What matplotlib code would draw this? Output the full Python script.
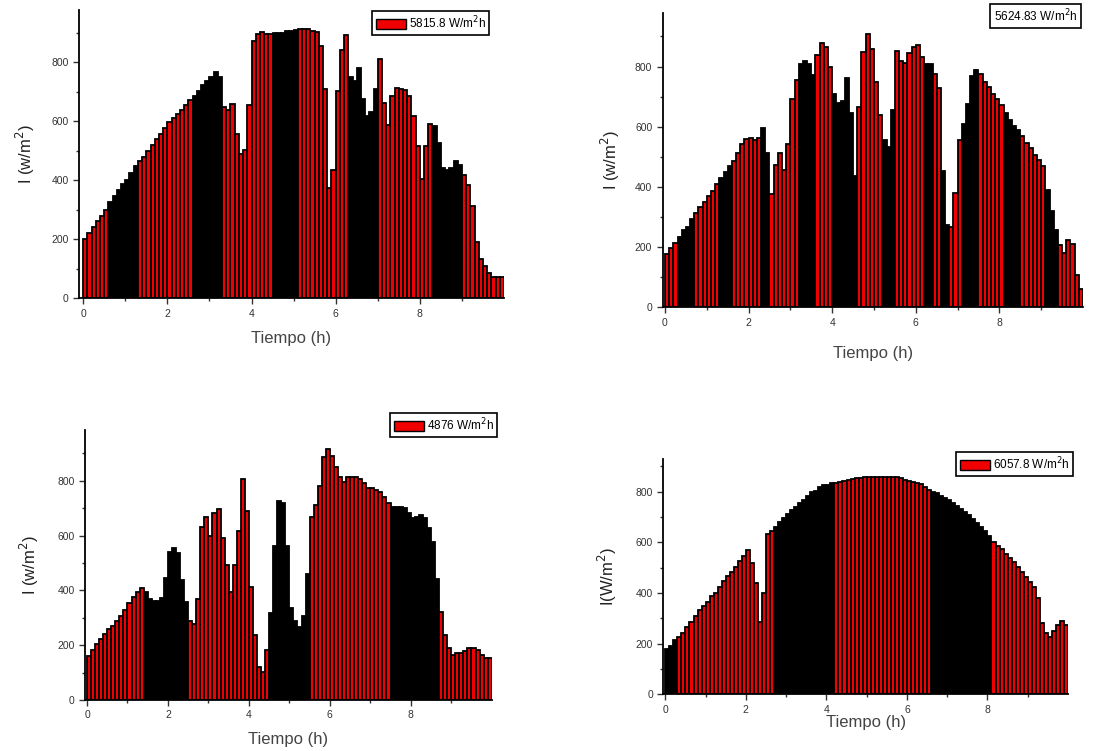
import numpy as np
import matplotlib.pyplot as plt
from matplotlib.patches import Patch

plt.rcParams['font.family'] = ['Liberation Sans', 'DejaVu Sans']

# time axis: 100 readings, one every 0.1 h
tiempo = np.arange(100) * 0.1

irr_1 = [202, 220, 241, 261, 280, 300, 328, 348, 368, 387,
         402, 426, 447, 464, 478, 500, 518, 541, 558, 577,
         596, 610, 624, 639, 655, 673, 687, 704, 722, 738,
         750, 767, 750, 648, 639, 658, 557, 490, 503, 656,
         871, 894, 904, 894, 894, 899, 899, 899, 905, 907,
         910, 911, 911, 911, 905, 902, 854, 709, 373, 436,
         701, 843, 891, 750, 738, 781, 676, 619, 630, 709,
         811, 662, 588, 687, 713, 709, 707, 687, 619, 517,
         404, 517, 590, 585, 526, 441, 436, 441, 466, 452,
         419, 385, 313, 192, 132, 110, 85, 71, 71, 71]

irr_2 = [177, 196, 215, 235, 257, 268, 294, 312, 332, 351,
         370, 388, 409, 429, 448, 468, 486, 512, 543, 558,
         562, 556, 562, 595, 512, 377, 473, 512, 456, 543,
         691, 756, 809, 820, 808, 772, 839, 878, 864, 800,
         709, 678, 687, 761, 645, 437, 665, 847, 909, 858,
         750, 639, 556, 534, 656, 852, 819, 813, 844, 864,
         872, 833, 809, 809, 776, 728, 454, 274, 266, 381,
         556, 609, 675, 769, 789, 776, 750, 731, 709, 691,
         673, 647, 623, 603, 589, 570, 547, 529, 506, 488,
         468, 390, 321, 257, 207, 182, 224, 209, 107, 61]

irr_3 = [160, 182, 203, 222, 240, 259, 271, 289, 308, 328,
         353, 377, 393, 407, 393, 367, 361, 361, 373, 444,
         541, 556, 535, 438, 359, 288, 277, 367, 632, 669,
         598, 681, 697, 592, 492, 393, 492, 618, 808, 689,
         413, 237, 119, 103, 182, 316, 563, 726, 717, 563,
         337, 289, 267, 308, 460, 669, 711, 781, 888, 914,
         890, 851, 815, 796, 812, 815, 812, 805, 790, 772,
         772, 766, 757, 739, 717, 705, 705, 705, 699, 683,
         663, 669, 675, 663, 626, 578, 441, 322, 237, 188,
         164, 173, 173, 180, 188, 188, 182, 164, 152, 154]

irr_4 = [178, 191, 214, 228, 243, 267, 287, 309, 333, 349,
         366, 388, 401, 425, 447, 468, 484, 504, 526, 546,
         570, 517, 441, 287, 401, 632, 646, 662, 679, 695,
         712, 728, 741, 754, 767, 783, 800, 803, 817, 826,
         826, 833, 836, 839, 843, 846, 849, 853, 855, 859,
         859, 859, 859, 859, 859, 859, 859, 859, 853, 846,
         842, 837, 833, 830, 820, 807, 800, 793, 784, 775,
         767, 757, 745, 733, 720, 707, 692, 677, 660, 643,
         625, 600, 587, 572, 556, 540, 522, 503, 483, 463,
         445, 425, 382, 282, 243, 228, 250, 272, 288, 272]

labels = ["5815.8 W/m$^2$h", "5624.83 W/m$^2$h", "4876 W/m$^2$h", "6057.8 W/m$^2$h"]
ylabels = ["I (w/m$^2$)", "I (w/m$^2$)", "I (w/m$^2$)", "I(W/m$^2$)"]

# index ranges where the bars render solid black in the original export
black_runs = [
    [(6, 12), (26, 32), (45, 50), (63, 69), (83, 89)],
    [(3, 6), (13, 15), (23, 24), (32, 35), (40, 45), (52, 54), (62, 63),
     (66, 67), (71, 74), (81, 84), (91, 93)],
    [(14, 24), (45, 54), (75, 86)],
    [(0, 2), (27, 41), (66, 80)],
]

# axes boxes in pixels: left, right, bottom (y=0), top
W, H = 1120, 751
boxes = [(79, 504, 298.3, 10), (662.7, 1083, 307.3, 12.7),
         (85, 491.7, 700, 430), (663.3, 1068, 694.3, 459.3)]
xlims = [(-0.1, 10.0), (-0.055, 10.0), (-0.05, 10.0), (-0.05, 10.0)]
ytops = [977, 979, 985, 928]
leg_pos = [(372, 11), (990, 4), (390, 413), (956, 452)]
xlab_pad = [9, 13, 8, 0]
ylab_pad = [10, 9, 12, 12]

fig = plt.figure(figsize=(W / 100, H / 100), dpi=100)
data = [irr_1, irr_2, irr_3, irr_4]

for k in range(4):
    l, r, b, t = boxes[k]
    ax = fig.add_axes([l / W, 1 - b / H, (r - l) / W, (b - t) / H])
    cols = ["#f00000"] * 100
    for a, z in black_runs[k]:
        for j in range(a, z + 1):
            cols[j] = "black"
    ax.bar(tiempo, data[k], width=0.1, align="edge", color=cols,
           edgecolor="black", linewidth=1.3)
    ax.set_xlim(*xlims[k])
    ax.set_ylim(0, ytops[k])
    ax.set_xticks([0, 2, 4, 6, 8])
    ax.set_xticks([1, 3, 5, 7, 9], minor=True)
    ax.set_yticks([0, 200, 400, 600, 800])
    ax.set_yticks([100, 300, 500, 700, 900], minor=True)
    for s in ["top", "right"]:
        ax.spines[s].set_visible(False)
    ax.spines["left"].set_linewidth(1.3)
    ax.spines["bottom"].set_linewidth(1.3)
    ax.tick_params(which="major", length=4, width=1, labelsize=7.5, colors="#333333")
    ax.tick_params(which="minor", length=2.5, width=1, colors="#333333")
    ax.set_xlabel("Tiempo (h)", fontsize=12, color="#444444", labelpad=xlab_pad[k])
    ax.set_ylabel(ylabels[k], fontsize=12, color="#222222", labelpad=ylab_pad[k])

    if k == 1:
        handles = [Patch(facecolor="none", edgecolor="none")]
        hl, htp = 0, 0
    else:
        handles = [Patch(facecolor="#f00000", edgecolor="black")]
        hl, htp = 2.6, 0.2
    lx, ly = leg_pos[k]
    leg = ax.legend(handles, [labels[k]], loc="upper left",
                    bbox_to_anchor=(lx / W, 1 - ly / H), bbox_transform=fig.transFigure,
                    fontsize=8.5, fancybox=False, framealpha=1, borderpad=0.3,
                    handlelength=hl, handletextpad=htp, handleheight=0.9,
                    borderaxespad=0)
    leg.get_frame().set_edgecolor("black")
    leg.get_frame().set_linewidth(1.2)

fig.savefig("out.png", dpi=100)
